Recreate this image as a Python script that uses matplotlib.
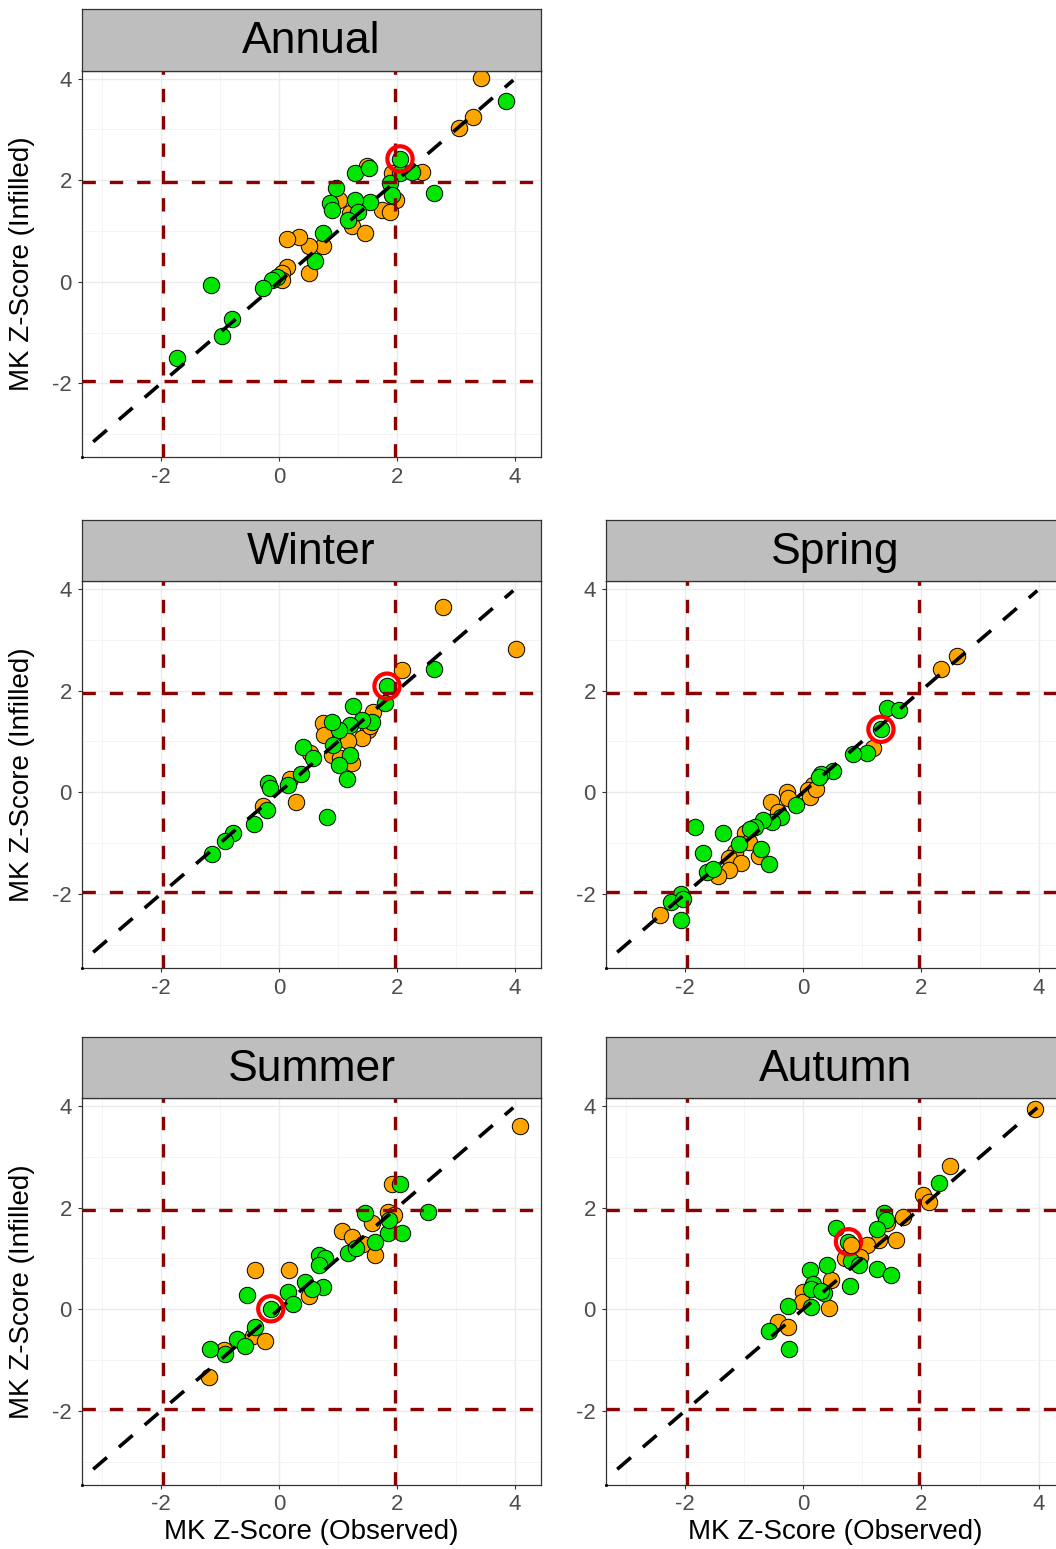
import matplotlib
matplotlib.use("Agg")
import matplotlib.pyplot as plt

plt.rcParams['font.family'] = ['Liberation Sans', 'DejaVu Sans']
plt.rcParams['axes.unicode_minus'] = False

# MK Z-scores: observed (x) vs infilled (y), orange / green stations, red ring = highlighted station
annual_orange_x = [3.43, 3.29, 3.05, 2.42, 1.49, 1.91, 1.99, 1.74, 1.88, 1.01, 1.20, 1.23, 1.46, 0.75, 0.51, 0.33, 0.14, 0.51, 0.13, 0.05, 0.05]
annual_orange_y = [4.01, 3.24, 3.03, 2.17, 2.27, 2.14, 1.61, 1.42, 1.38, 1.61, 1.35, 1.09, 0.96, 0.70, 0.70, 0.89, 0.85, 0.18, 0.30, 0.17, 0.04]
annual_green_x = [3.85, 2.05, 2.25, 1.29, 1.52, 1.88, 1.91, 2.62, 1.54, 1.29, 1.34, 1.17, 0.97, 0.86, 0.89, 0.75, 0.61, -0.04, -0.12, -0.28, -1.15, -0.79, -0.96, -1.73, 2.05]
annual_green_y = [3.55, 2.14, 2.17, 2.15, 2.25, 1.94, 1.71, 1.75, 1.58, 1.61, 1.38, 1.22, 1.84, 1.55, 1.42, 0.96, 0.40, 0.10, 0.03, -0.12, -0.07, -0.73, -1.07, -1.51, 2.42]
annual_ring = (2.05, 2.42)

winter_orange_x = [2.78, 4.02, 2.08, 1.60, 1.51, 1.40, 0.75, 0.76, 1.17, 0.89, 1.03, 1.23, 0.53, 0.19, 0.28, -0.27, 1.55]
winter_orange_y = [3.65, 2.83, 2.40, 1.59, 1.23, 1.06, 1.36, 1.13, 1.00, 0.74, 0.67, 0.57, 0.77, 0.27, -0.19, -0.27, 1.30]
winter_green_x = [2.62, 1.80, 1.26, 1.57, 1.40, 1.20, 1.02, 0.89, 0.92, 1.20, 1.01, 1.15, 0.82, 0.40, 0.58, 0.38, 0.16, -0.18, -0.16, -0.21, -0.43, -0.78, -0.92, -1.13, 1.83]
winter_green_y = [2.42, 1.76, 1.70, 1.39, 1.43, 1.33, 1.23, 1.39, 0.93, 0.74, 0.54, 0.27, -0.49, 0.89, 0.67, 0.36, 0.14, 0.18, 0.08, -0.35, -0.63, -0.81, -0.95, -1.21, 2.09]
winter_ring = (1.83, 2.09)

spring_orange_x = [2.61, 2.34, 1.19, 0.17, 0.09, 0.11, 0.22, -0.28, -0.26, -0.54, -0.43, -0.99, -0.91, -0.74, -1.16, -1.25, -1.05, -1.25, -1.45, -2.43]
spring_orange_y = [2.68, 2.43, 0.87, 0.14, 0.04, -0.10, 0.06, 0.01, -0.12, -0.19, -0.39, -0.81, -0.98, -1.25, -1.18, -1.29, -1.39, -1.54, -1.64, -2.41]
spring_green_x = [1.42, 1.62, 1.08, 0.85, 0.51, 0.31, 0.27, -0.12, -0.37, -0.52, -0.68, -0.81, -0.90, -1.36, -1.83, -1.08, -0.71, -0.57, -1.70, -1.62, -1.53, -2.07, -2.24, -2.04, -2.07, 1.32]
spring_green_y = [1.66, 1.62, 0.77, 0.75, 0.42, 0.36, 0.30, -0.25, -0.48, -0.58, -0.55, -0.68, -0.72, -0.81, -0.68, -1.01, -1.11, -1.41, -1.20, -1.57, -1.52, -2.00, -2.16, -2.10, -2.51, 1.24]
spring_ring = (1.32, 1.24)

summer_orange_x = [4.08, 1.91, 1.85, 1.94, 1.57, 1.06, 1.23, 1.43, 1.63, -0.41, 0.17, 0.50, -0.44, -0.24, -0.93, -1.19]
summer_orange_y = [3.61, 2.46, 1.92, 1.86, 1.70, 1.54, 1.43, 1.29, 1.06, 0.78, 0.77, 0.27, -0.52, -0.62, -0.81, -1.34]
summer_green_x = [2.05, 2.53, 1.46, 1.84, 2.08, 1.63, 1.17, 1.31, 0.67, 0.78, 0.67, 0.44, 0.75, 0.55, -0.54, 0.16, 0.23, -0.41, -0.72, -0.58, -0.92, -1.17, 1.86, -0.14]
summer_green_y = [2.46, 1.92, 1.89, 1.50, 1.50, 1.33, 1.10, 1.20, 1.06, 1.00, 0.87, 0.54, 0.44, 0.40, 0.29, 0.34, 0.11, -0.35, -0.58, -0.72, -0.88, -0.78, 1.76, 0.01]
summer_ring = (-0.14, 0.01)

autumn_orange_x = [3.93, 2.49, 2.04, 2.13, 1.70, 1.42, 1.28, 1.57, 1.08, 0.71, 0.97, 0.48, 0.00, -0.01, 0.44, -0.43, -0.26]
autumn_orange_y = [3.94, 2.82, 2.25, 2.12, 1.82, 1.69, 1.36, 1.36, 1.26, 1.00, 1.03, 0.57, 0.34, 0.14, 0.03, -0.25, -0.35]
autumn_green_x = [2.30, 1.37, 1.40, 1.25, 0.56, 0.77, 0.82, 0.94, 1.25, 1.49, 0.40, 0.80, 0.11, 0.17, 0.14, 0.35, 0.14, -0.26, -0.57, -0.24, 0.30]
autumn_green_y = [2.48, 1.89, 1.75, 1.59, 1.61, 1.33, 0.96, 0.87, 0.80, 0.67, 0.87, 0.45, 0.78, 0.50, 0.40, 0.32, 0.04, 0.06, -0.42, -0.78, 0.36]
autumn_ring = (0.77, 1.33)
autumn_top_orange = (0.82, 1.26)

ticks = [-2, 0, 2, 4]
minor_ticks = [-3, -1, 1, 3]
signif = 1.96
one_to_one = [-3.15, 3.97]

W, H = 1056, 1549
fig = plt.figure(figsize=(W / 100, H / 100), dpi=100)

PT_SIZE = 140


def rect(x, y, w, h):
    return [x / W, 1 - (y + h) / H, w / W, h / H]


def panel(col, row, title, ox, oy, gx, gy, ring, xlabel=False, ylabel=False):
    left = [82, 606][col]
    top = [70.5, 581, 1098][row]
    pw, ph, sh = 459, 386.5, 61.5

    ax = fig.add_axes(rect(left, top, pw, ph))
    ax.set_xlim(-3.34, 4.44)
    ax.set_ylim(-3.45, 4.16)
    ax.set_xticks(ticks)
    ax.set_yticks(ticks)
    ax.set_xticks(minor_ticks, minor=True)
    ax.set_yticks(minor_ticks, minor=True)
    ax.grid(which='major', color='#EBEBEB', lw=1.0)
    ax.grid(which='minor', color='#F2F2F2', lw=0.6)
    ax.set_axisbelow(True)
    ax.tick_params(which='major', length=3.2, width=0.8, color='#333333',
                   labelsize=16, labelcolor='#4D4D4D', pad=4)
    ax.tick_params(which='minor', length=0)
    for s in ax.spines.values():
        s.set_color('#333333')
        s.set_linewidth(0.9)

    ax.scatter(ox, oy, s=PT_SIZE, c='#FFA500', edgecolors='black', linewidths=0.7, zorder=3)
    ax.scatter(gx, gy, s=PT_SIZE, c='#00E600', edgecolors='black', linewidths=0.7, zorder=3)
    for v in (-signif, signif):
        ax.axvline(v, color='#8B0000', lw=2.4, ls=(0, (4, 4.2)), zorder=4)
        ax.axhline(v, color='#8B0000', lw=2.4, ls=(0, (4, 4.2)), zorder=4)
    ax.plot(one_to_one, one_to_one, color='black', lw=2.6, ls=(0, (5, 4.4)), zorder=4)
    ax.scatter([ring[0]], [ring[1]], s=330, facecolors='none', edgecolors='#FF0000',
               linewidths=3.0, zorder=5)
    ax.plot([-3.34], [-3.45], 'k.', ms=2.5, clip_on=False, zorder=6)

    sax = fig.add_axes(rect(left, top - sh, pw, sh))
    sax.set_facecolor('#BEBEBE')
    sax.set_xticks([])
    sax.set_yticks([])
    for s in sax.spines.values():
        s.set_color('#333333')
        s.set_linewidth(0.9)
    sax.text(0.5, 0.47, title, ha='center', va='center', fontsize=32, color='black',
             transform=sax.transAxes)

    if xlabel:
        fig.text((left + pw / 2) / W, 1 - 1532 / H, 'MK Z-Score (Observed)', ha='center',
                 va='center', fontsize=20)
    if ylabel:
        fig.text(22 / W, 1 - (top + ph / 2) / H, 'MK Z-Score (Infilled)', ha='center',
                 va='center', rotation=90, fontsize=20)
    return ax


panel(0, 0, 'Annual', annual_orange_x, annual_orange_y, annual_green_x, annual_green_y,
      annual_ring, ylabel=True)
panel(0, 1, 'Winter', winter_orange_x, winter_orange_y, winter_green_x, winter_green_y,
      winter_ring, ylabel=True)
panel(1, 1, 'Spring', spring_orange_x, spring_orange_y, spring_green_x, spring_green_y,
      spring_ring)
panel(0, 2, 'Summer', summer_orange_x, summer_orange_y, summer_green_x, summer_green_y,
      summer_ring, xlabel=True, ylabel=True)
ax = panel(1, 2, 'Autumn', autumn_orange_x, autumn_orange_y, autumn_green_x, autumn_green_y,
           autumn_ring, xlabel=True)
ax.scatter([autumn_top_orange[0]], [autumn_top_orange[1]], s=PT_SIZE, c='#FFA500',
           edgecolors='black', linewidths=0.7, zorder=6)

fig.savefig('out.png', dpi=100)
